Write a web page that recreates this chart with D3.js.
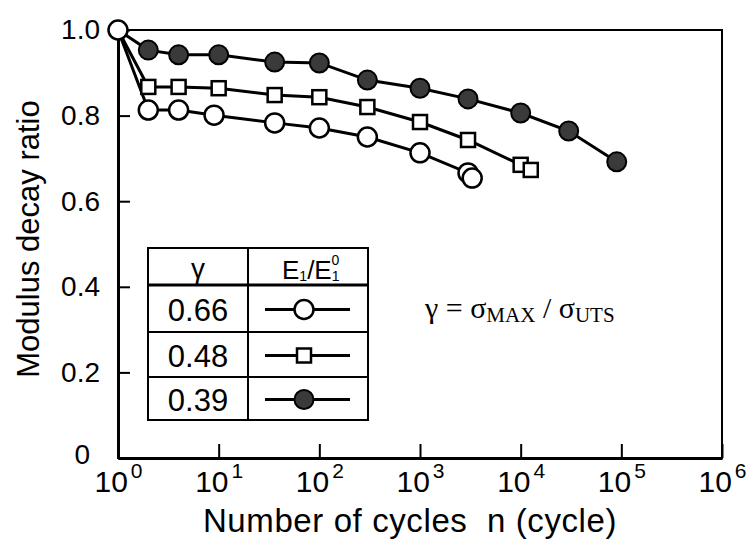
<!DOCTYPE html>
<html>
<head>
<meta charset="utf-8">
<script src="https://cdn.jsdelivr.net/npm/d3@7"></script>
<style>
  html, body { margin: 0; padding: 0; background: #fff; }
  svg { display: block; }
  text { font-family: "Liberation Sans", Arial, sans-serif; fill: #000; }
</style>
</head>
<body>
<svg id="chart" width="753" height="539"></svg>
<script>
// ---- data ----
const cyclesG066 = [1, 2, 4, 9, 36, 100, 300, 1000, 3000, 3300];
const ratioG066  = [1.0, 0.813, 0.813, 0.801, 0.783, 0.771, 0.750, 0.713, 0.666, 0.654];

const cyclesG048 = [1, 2, 4, 10, 36, 100, 300, 1000, 3000, 10000, 12600];
const ratioG048  = [1.0, 0.867, 0.867, 0.864, 0.848, 0.843, 0.820, 0.785, 0.743, 0.685, 0.673];

const cyclesG039 = [1, 2, 4, 10, 36, 100, 300, 1000, 3000, 10000, 30000, 90000];
const ratioG039  = [1.0, 0.953, 0.942, 0.942, 0.925, 0.923, 0.883, 0.864, 0.839, 0.806, 0.764, 0.692];

const gammaLabels = ["0.66", "0.48", "0.39"];
const xTickExponents = [0, 1, 2, 3, 4, 5, 6];
const yTickValues = [0, 0.2, 0.4, 0.6, 0.8, 1.0];

// ---- layout ----
const W = 753, H = 539;
const margin = { left: 118, right: 31, top: 30, bottom: 81 };
const svg = d3.select("#chart");

const x = d3.scaleLog().domain([1, 1e6]).range([margin.left, W - margin.right]);
const y = d3.scaleLinear().domain([0, 1]).range([H - margin.bottom, margin.top]);

const series = [
  { cycles: cyclesG066, ratio: ratioG066, shape: "circle" },
  { cycles: cyclesG048, ratio: ratioG048, shape: "square" },
  { cycles: cyclesG039, ratio: ratioG039, shape: "filled" }
];

// frame (top & right)
svg.append("rect")
  .attr("x", x(1)).attr("y", y(1))
  .attr("width", x(1e6) - x(1)).attr("height", y(0) - y(1))
  .attr("fill", "none").attr("stroke", "#000").attr("stroke-width", 2);

// x axis
const xAxis = d3.axisBottom(x)
  .tickValues(xTickExponents.map(e => Math.pow(10, e)))
  .tickSizeInner(-14).tickSizeOuter(0)
  .tickFormat(() => "");
const gx = svg.append("g").attr("transform", `translate(0,${y(0)})`).call(xAxis);
gx.select(".domain").attr("stroke-width", 3);
gx.selectAll(".tick line").attr("stroke-width", 2);
gx.selectAll(".tick text").each(function(d) {
  const t = d3.select(this);
  t.text(null).attr("y", 34).attr("dy", null).attr("font-size", 30).attr("text-anchor", "middle");
  t.append("tspan").text("10");
  t.append("tspan").attr("dx", 3).attr("dy", -14).attr("font-size", 21).text(String(Math.round(Math.log10(d))));
});

// y axis
const yAxis = d3.axisLeft(y)
  .tickValues(yTickValues)
  .tickSizeInner(-12).tickSizeOuter(0)
  .tickPadding(18)
  .tickFormat(d => d === 0 ? "0" : d3.format(".1f")(d));
const gy = svg.append("g").attr("transform", `translate(${x(1)},0)`).call(yAxis);
gy.select(".domain").attr("stroke-width", 3);
gy.selectAll(".tick line").attr("stroke-width", 2);
gy.selectAll(".tick text").attr("font-size", 28)
  .attr("transform", d => d === 0 ? "translate(-10,-3)" : null);

// axis titles
svg.append("text")
  .attr("x", 410).attr("y", 532)
  .attr("text-anchor", "middle").attr("font-size", 33)
  .style("white-space", "pre").style("letter-spacing", "0.6px")
  .text("Number of cycles  n (cycle)");

svg.append("text")
  .attr("transform", `translate(39,${239}) rotate(-90)`)
  .attr("text-anchor", "middle").attr("font-size", 31)
  .text("Modulus decay ratio");

// series lines
const line = d3.line().x(d => x(d[0])).y(d => y(d[1]));
series.forEach(s => {
  const pts = s.cycles.map((c, i) => [c, s.ratio[i]]);
  svg.append("path").datum(pts)
    .attr("d", line).attr("fill", "none")
    .attr("stroke", "#000").attr("stroke-width", 3);
});

function drawMarker(g, shape, cx, cy) {
  if (shape === "square") {
    g.append("rect").attr("x", cx - 7).attr("y", cy - 7).attr("width", 14).attr("height", 14)
      .attr("fill", "#fff").attr("stroke", "#000").attr("stroke-width", 2.5);
  } else if (shape === "circle") {
    g.append("circle").attr("cx", cx).attr("cy", cy).attr("r", 9.5)
      .attr("fill", "#fff").attr("stroke", "#000").attr("stroke-width", 2.5);
  } else {
    g.append("circle").attr("cx", cx).attr("cy", cy).attr("r", 9.5)
      .attr("fill", "#3a3a3a").attr("stroke", "#000").attr("stroke-width", 2);
  }
}

// markers (draw filled first, shared origin open circle last)
[series[2], series[1], series[0]].forEach(s => {
  const g = svg.append("g");
  s.cycles.forEach((c, i) => {
    if (i === 0 && s.shape !== "circle") return;
    drawMarker(g, s.shape, x(c), y(s.ratio[i]));
  });
});

// legend table
const tb = { x0: 148, x1: 368, xd: 248, y0: 248, yh: 285, rows: [285, 332, 377, 420] };
const lg = svg.append("g");
lg.append("rect").attr("x", tb.x0).attr("y", tb.y0).attr("width", tb.x1 - tb.x0).attr("height", tb.rows[3] - tb.y0)
  .attr("fill", "#fff").attr("stroke", "#000").attr("stroke-width", 2);
lg.append("line").attr("x1", tb.xd).attr("x2", tb.xd).attr("y1", tb.y0).attr("y2", tb.rows[3])
  .attr("stroke", "#000").attr("stroke-width", 2);
lg.append("line").attr("x1", tb.x0).attr("x2", tb.x1).attr("y1", tb.yh).attr("y2", tb.yh)
  .attr("stroke", "#000").attr("stroke-width", 3);
[tb.rows[1], tb.rows[2]].forEach(yy => {
  lg.append("line").attr("x1", tb.x0).attr("x2", tb.x1).attr("y1", yy).attr("y2", yy)
    .attr("stroke", "#000").attr("stroke-width", 2);
});
// header
lg.append("text").attr("x", (tb.x0 + tb.xd) / 2).attr("y", 278).attr("text-anchor", "middle")
  .attr("font-size", 28).text("γ");
const hdr = lg.append("text").attr("x", 282).attr("y", 279).attr("font-size", 26);
hdr.append("tspan").text("E");
hdr.append("tspan").attr("font-size", 14).attr("dy", 2).text("1");
hdr.append("tspan").attr("dy", -2).text("/E");
hdr.append("tspan").attr("font-size", 14).attr("dy", 2).text("1");
hdr.append("tspan").attr("font-size", 14).attr("dx", -8).attr("dy", -16).text("0");
// rows
gammaLabels.forEach((lab, i) => {
  const top = tb.rows[i], bot = tb.rows[i + 1];
  const cy = (top + bot) / 2 + 1;
  lg.append("text").attr("x", (tb.x0 + tb.xd) / 2).attr("y", cy + 11).attr("text-anchor", "middle")
    .attr("font-size", 31).text(lab);
  lg.append("line").attr("x1", 265).attr("x2", 350).attr("y1", cy).attr("y2", cy)
    .attr("stroke", "#000").attr("stroke-width", 3);
  drawMarker(lg, series[i].shape, 304, cy);
});

// formula
const f = svg.append("text").attr("x", 425).attr("y", 318)
  .attr("font-family", "'Liberation Serif', 'Times New Roman', serif").attr("font-size", 30)
  .style("white-space", "pre");
f.append("tspan").style("font-family", "'Liberation Serif', serif").text("γ = σ");
f.append("tspan").style("font-family", "'Liberation Serif', serif").attr("font-size", 21).attr("dy", 4).text("MAX");
f.append("tspan").style("font-family", "'Liberation Serif', serif").attr("dy", -4).text(" / σ");
f.append("tspan").style("font-family", "'Liberation Serif', serif").attr("font-size", 21).attr("dy", 4).text("UTS");
</script>
</body>
</html>
